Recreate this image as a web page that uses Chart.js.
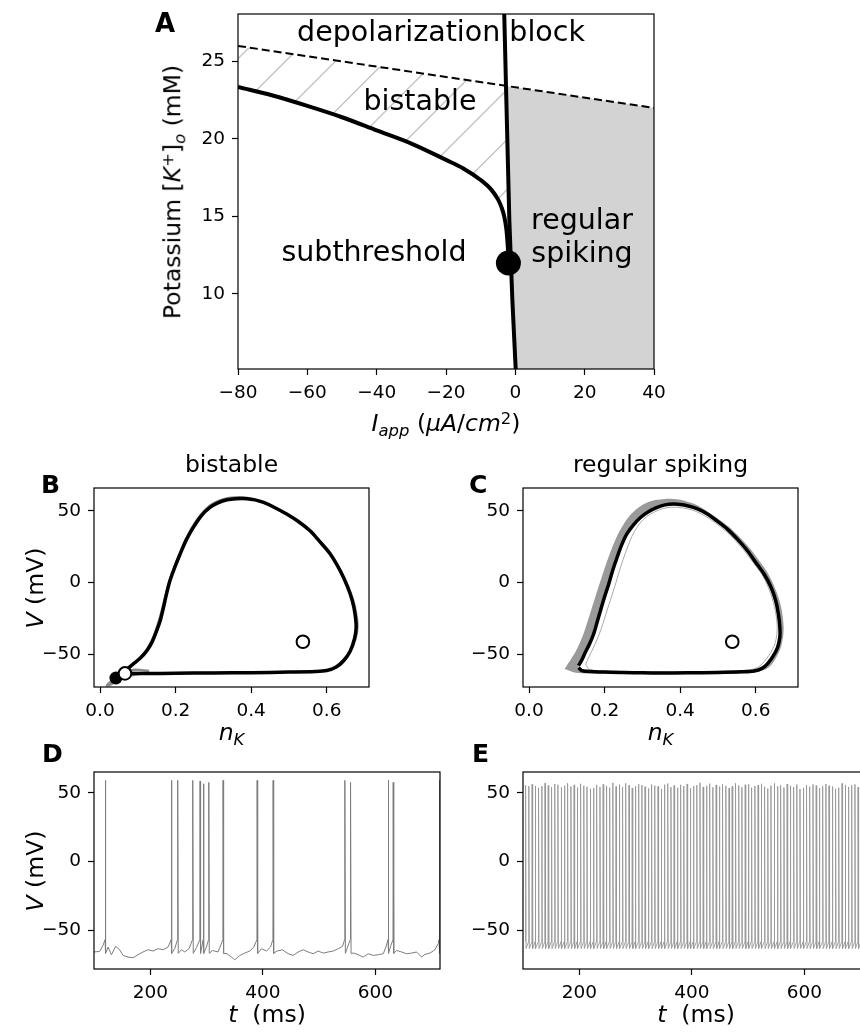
<!DOCTYPE html>
<html>
<head>
<meta charset="utf-8">
<title>Potassium bifurcation figure</title>
<script src="https://cdn.jsdelivr.net/npm/chart.js@4.4.0/dist/chart.umd.min.js"></script>
<style>
  html, body { margin: 0; padding: 0; background: #fff; }
  body { position: relative; width: 860px; height: 1035px; overflow: hidden; font-family: "DejaVu Sans", sans-serif; color: #000; }
  canvas { position: absolute; }
  .lbl { position: absolute; white-space: nowrap; line-height: 1; }
  .it { font-style: italic; }
  .sub { font-size: 70%; position: relative; top: 0.28em; line-height: 0; }
  .sup { font-size: 70%; position: relative; top: -0.45em; line-height: 0; }
</style>
</head>
<body>
<canvas id="chartA"></canvas>
<canvas id="chartB"></canvas>
<canvas id="chartC"></canvas>
<canvas id="chartD"></canvas>
<canvas id="chartE"></canvas>
<script>
// ---- panel A: (I_app, [K+]o) diagram ----
const iappTicks = [-80, -60, -40, -20, 0, 20, 40];
const koTicks = [10, 15, 20, 25];
const iappRange = [-80, 40];
const koRange = [5.16, 28.06];

const snIapp = [-80, -70, -60, -50, -40, -30, -20, -15, -10, -7, -5, -4, -3.2, -2.6, -2.25, -2.07, -2.0];
const snKo = [23.35, 22.8, 22.13, 21.4, 20.55, 19.7, 18.65, 18.1, 17.35, 16.75, 16.1, 15.6, 15.0, 14.2, 13.3, 12.6, 12.0];
const hopfIapp = [-3.3, -2.68, -1.73, -0.86, 0.25];
const hopfKo = [29.0, 23.29, 14.77, 9.61, 4.5];
const dashIapp = [-80, 40];
const dashKo = [26, 22];
const bifIapp = [-2.0];
const bifKo = [12.0];

// ---- panels B, C: phase plane ----
const nkTicks = [0, 0.2, 0.4, 0.6];
const vTicks = [-50, 0, 50];
const nkRange = [-0.016, 0.712];
const vPhaseRange = [-73.0, 65.9];

const bLoopNk = [0.042, 0.055, 0.066, 0.09, 0.12, 0.2, 0.3, 0.4, 0.5, 0.57, 0.6, 0.625, 0.645, 0.662, 0.674, 0.678, 0.675, 0.668, 0.655, 0.636, 0.609, 0.58, 0.556, 0.525, 0.494, 0.462, 0.433, 0.41, 0.389, 0.36, 0.336, 0.312, 0.291, 0.268, 0.247, 0.228, 0.212, 0.197, 0.185, 0.176, 0.168, 0.16, 0.15, 0.138, 0.124, 0.106, 0.088, 0.075, 0.068, 0.066];
const bLoopV = [-66.7, -64.6, -63.5, -63.6, -63.6, -63.4, -63.2, -63.0, -62.6, -62.2, -61.5, -59.0, -54.5, -48.0, -39.0, -31.0, -22.0, -13.0, -3.0, 8.0, 20.0, 29.0, 36.0, 42.5, 47.7, 52.3, 55.8, 57.6, 58.4, 58.4, 57.7, 55.5, 52.3, 46.5, 38.4, 29.5, 19.8, 10.0, 1.2, -8.0, -17.4, -26.0, -33.7, -41.5, -47.6, -53.0, -56.9, -59.8, -61.8, -63.5];
const bGrayNk = [0.07, 0.12, 0.2, 0.3, 0.4, 0.5, 0.58, 0.615, 0.64, 0.66, 0.676, 0.682, 0.678, 0.67, 0.656, 0.636, 0.607, 0.577, 0.55, 0.518, 0.487, 0.455, 0.427, 0.402, 0.38, 0.355, 0.33, 0.305, 0.285, 0.262, 0.242, 0.224, 0.208, 0.194, 0.182, 0.173, 0.164, 0.155, 0.145, 0.132, 0.118, 0.1, 0.082, 0.07];
const bGrayV = [-63.0, -63.3, -63.2, -63.0, -62.8, -62.5, -62.0, -60.5, -57.0, -50.0, -40.0, -31.0, -21.0, -12.0, -2.0, 9.0, 21.0, 30.0, 37.0, 43.5, 48.5, 53.0, 56.5, 58.5, 59.5, 59.5, 58.5, 56.0, 52.5, 46.0, 38.0, 28.5, 18.5, 9.0, 0.0, -9.0, -18.5, -27.0, -35.0, -43.0, -49.0, -54.5, -58.5, -63.0];
const bTailNk = [0.13, 0.09, 0.06, 0.04, 0.025, 0.018, 0.03, 0.05, 0.08, 0.12];
const bTailV = [-61.8, -61.0, -63.5, -67.0, -70.0, -72.0, -71.0, -68.0, -65.0, -63.2];
const bStableNk = [0.042], bStableV = [-66.7];
const bSaddleNk = [0.066], bSaddleV = [-63.5];
const bFocusNk = [0.537], bFocusV = [-41.4];

const cLoopNk = [0.131, 0.14, 0.153, 0.2, 0.25, 0.3, 0.348, 0.42, 0.5, 0.56, 0.596, 0.618, 0.631, 0.646, 0.658, 0.664, 0.664, 0.66, 0.653, 0.64, 0.622, 0.6, 0.578, 0.552, 0.525, 0.498, 0.472, 0.446, 0.419, 0.4, 0.383, 0.36, 0.339, 0.316, 0.295, 0.276, 0.259, 0.245, 0.233, 0.221, 0.211, 0.2, 0.189, 0.18, 0.171, 0.16, 0.149, 0.14, 0.131];
const cLoopV = [-59.5, -61.5, -62.0, -62.6, -62.9, -63.1, -63.2, -63.1, -62.8, -62.4, -61.8, -59.8, -56.9, -51.5, -45.3, -38.0, -31.4, -22.0, -12.8, -3.0, 5.9, 14.0, 22.1, 30.0, 37.2, 42.8, 47.7, 51.3, 53.5, 54.4, 54.7, 54.1, 52.3, 49.3, 45.3, 40.0, 33.8, 26.0, 17.4, 8.0, -1.1, -10.0, -19.7, -28.0, -36.0, -43.0, -48.8, -54.0, -58.1];
// outer edge of the grey bundle of noisy trajectories
const cEdgeNk = [0.094, 0.12, 0.16, 0.3, 0.45, 0.56, 0.6, 0.625, 0.64, 0.655, 0.667, 0.673, 0.674, 0.67, 0.662, 0.648, 0.63, 0.607, 0.584, 0.556, 0.528, 0.5, 0.472, 0.444, 0.417, 0.395, 0.375, 0.36, 0.335, 0.31, 0.288, 0.268, 0.25, 0.234, 0.221, 0.209, 0.197, 0.186, 0.175, 0.164, 0.154, 0.144, 0.133, 0.122, 0.11, 0.1, 0.094];
const cEdgeV = [-60.5, -62.8, -63.6, -63.9, -63.9, -63.5, -62.6, -60.8, -58.0, -52.0, -45.0, -37.0, -31.0, -21.0, -12.0, -2.0, 7.5, 16.0, 24.0, 32.0, 39.0, 44.5, 49.5, 54.0, 56.5, 57.8, 58.4, 58.3, 57.5, 55.5, 52.0, 47.0, 40.5, 33.0, 25.0, 16.5, 7.5, -1.5, -10.5, -19.7, -28.0, -36.0, -43.0, -49.0, -54.0, -58.0, -60.5];
const cInnerNk = [0.15, 0.16, 0.2, 0.35, 0.5, 0.585, 0.61, 0.635, 0.652, 0.657, 0.652, 0.64, 0.62, 0.596, 0.573, 0.547, 0.52, 0.494, 0.468, 0.443, 0.418, 0.39, 0.365, 0.343, 0.322, 0.303, 0.286, 0.272, 0.26, 0.249, 0.238, 0.228, 0.217, 0.206, 0.196, 0.186, 0.175, 0.164, 0.155, 0.15];
const cInnerV = [-57.0, -60.8, -61.8, -62.4, -62.1, -61.0, -58.5, -51.0, -42.0, -31.0, -20.0, -8.0, 4.0, 13.0, 21.0, 29.0, 36.0, 41.5, 46.0, 49.5, 51.5, 52.5, 52.2, 50.5, 47.8, 44.0, 38.5, 32.0, 24.0, 16.0, 7.0, -2.0, -11.0, -20.0, -28.5, -36.0, -43.0, -49.0, -54.0, -57.0];
const cFocusNk = [0.538], cFocusV = [-41.4];

// ---- panels D, E: voltage traces ----
const tTicks = [200, 400, 600];
const tRange = [100, 714.6];
const vTraceRange = [-78.4, 65.1];

const dBaseT = [100, 110, 116, 125, 131, 138.5, 145.6, 151.6, 160.4, 169.3, 178.2, 187.1, 196, 204.9, 213.8, 222.7, 231.6, 243.4, 255.3, 261.2, 268.9, 281.9, 299.7, 310.4, 320.4, 336.4, 344.1, 350.1, 359, 367.9, 376.7, 383.9, 397.5, 406.4, 413.5, 425.3, 434.8, 444.9, 453.8, 462.7, 471.6, 480.4, 489.3, 498.2, 507.1, 516, 524.9, 533.8, 541.5, 550.4, 561.6, 569.3, 578.2, 587.1, 596, 604.9, 613.8, 618.5, 627.4, 637.5, 646.4, 655.3, 664.1, 673, 681.9, 687.9, 696.7, 705.6, 711.6];
const dBaseV = [-66.0, -65.6, -61.2, -62.4, -68.0, -61.9, -64.4, -68.5, -69.7, -70.2, -68.0, -66.0, -64.4, -65.3, -63.6, -64.4, -62.4, -63.6, -64.4, -66.0, -63.6, -62.9, -62.4, -64.9, -66.0, -67.3, -69.7, -71.7, -68.5, -66.8, -65.3, -62.4, -63.6, -65.3, -62.4, -65.3, -64.4, -67.3, -68.5, -66.0, -64.4, -66.0, -67.3, -65.3, -66.8, -66.0, -65.3, -63.6, -61.9, -62.4, -66.8, -68.0, -69.7, -67.3, -68.5, -68.0, -67.3, -62.4, -61.2, -64.9, -66.0, -67.3, -66.8, -66.0, -69.7, -67.8, -66.8, -64.4, -59.8];
const dSpikeT = [120.1, 237.5, 248.7, 275.4, 288.4, 294.4, 303.9, 329.3, 389.8, 418.2, 545.6, 555.7, 622.7, 631.5, 713.3];
const dSpikePeak = [59, 59, 59, 59, 58.5, 56.5, 57.5, 59, 59, 59, 59, 57.5, 59, 57.5, 59];
const dPre = -57, dPost = -67;

const eSpikeT = [104.6, 110.3, 116.2, 121.8, 127.6, 133.5, 139.1, 144.8, 150.7, 156.4,
  162.0, 167.9, 173.6, 179.2, 185.1, 190.8, 196.4, 202.3, 208.0, 213.6,
  219.5, 225.2, 230.8, 236.7, 242.4, 248.0, 253.9, 259.6, 265.2, 271.1,
  276.8, 282.4, 288.3, 294.0, 299.6, 305.5, 311.2, 316.8, 322.7, 328.4,
  334.0, 339.9, 345.6, 351.2, 357.1, 362.8, 368.4, 374.3, 380.0, 385.6,
  391.5, 397.2, 402.8, 408.7, 414.4, 420.0, 425.9, 431.6, 437.2, 443.1,
  448.8, 454.4, 460.3, 466.0, 471.6, 477.5, 483.2, 488.8, 494.7, 500.4,
  506.0, 511.9, 517.6, 523.2, 529.1, 534.8, 540.4, 546.3, 552.0, 557.6,
  563.5, 569.2, 574.8, 580.7, 586.4, 592.0, 597.9, 603.6, 609.2, 615.1,
  620.8, 626.4, 632.3, 638.0, 643.6, 649.5, 655.2, 660.8, 666.7, 672.4,
  678.0, 683.9, 689.6, 695.2, 701.1, 706.8, 712.4];
const eSpikePeak = [55.5, 54.8, 56.2, 55.0, 53.6, 54.9, 57.0, 55.3, 54.1, 56.4,
  55.8, 53.9, 55.2, 56.9, 54.6, 55.7, 53.8, 56.5, 55.1, 54.3,
  52.9, 53.4, 55.8, 54.2, 56.1, 55.0, 53.7, 57.2, 54.5, 55.9,
  54.0, 56.8, 55.4, 53.5, 54.7, 56.3, 55.6, 54.4, 53.1, 56.0,
  55.2, 54.6, 52.8, 55.9, 56.7, 54.1, 55.3, 53.6, 55.8, 54.9,
  56.4, 53.2, 54.8, 55.5, 57.3, 54.2, 55.1, 56.6, 53.9, 55.7,
  54.5, 56.2, 55.0, 53.4, 54.6, 56.9, 55.3, 54.0, 55.8, 56.1,
  53.7, 54.9, 55.6, 56.5, 54.3, 53.0, 55.2, 56.8, 54.7, 55.4,
  53.8, 56.3, 55.0, 54.1, 55.9, 52.7, 53.5, 55.6, 54.4, 56.0,
  55.2, 53.3, 54.8, 56.4, 55.1, 54.5, 52.9, 53.6, 56.7, 55.7,
  54.2, 55.4, 56.1, 54.0, 55.3, 53.9, 56.5];
const ePre = -58.5, eTrough = -63.5;

// ---- layout ----
const YW = 70, XH = 46, PT = 30, PR = 30;
const FONT = "DejaVu Sans";

function pts(xs, ys) {
  return xs.map((x, i) => ({ x: x, y: ys[i] }));
}

function spikeTrace(baseT, baseV, spikeT, peaks, pre, post) {
  const out = pts(baseT, baseV);
  spikeT.forEach((t, i) => {
    out.push({ x: t - 0.4, y: pre }, { x: t, y: peaks[i] }, { x: t + 0.9, y: post });
  });
  return out.sort((a, b) => a.x - b.x);
}

const minus = v => String(v).replace("-", "\u2212");
const oneDec = v => v.toFixed(1);

function place(id, box) {
  const cv = document.getElementById(id);
  cv.width = YW + box.w + PR;
  cv.height = PT + box.h + XH;
  cv.style.left = (box.x - YW) + "px";
  cv.style.top = (box.y - PT) + "px";
  cv.style.width = cv.width + "px";
  cv.style.height = cv.height + "px";
  return cv;
}

function axis(range, ticks, fmt, fit) {
  return {
    type: "linear",
    min: range[0],
    max: range[1],
    afterBuildTicks: s => { s.ticks = ticks.map(v => ({ value: v })); },
    afterFit: fit,
    ticks: { color: "#000", font: { family: FONT, size: 18.5 }, padding: 7, maxRotation: 0, autoSkip: false, callback: v => fmt(v) },
    grid: { drawOnChartArea: false, drawTicks: true, tickLength: 6, tickWidth: 1.2, tickColor: "#000" },
    border: { display: false }
  };
}

function options(xr, xt, xf, yr, yt, yf) {
  return {
    responsive: false,
    animation: false,
    events: [],
    layout: { padding: { top: PT, right: PR, bottom: 0, left: 0 } },
    plugins: { legend: { display: false }, tooltip: { enabled: false } },
    scales: {
      x: axis(xr, xt, xf, s => { s.height = XH; }),
      y: axis(yr, yt, yf, s => { s.width = YW; })
    }
  };
}

// box round each plot, like the matplotlib spines
const frame = {
  id: "frame",
  afterDraw(chart) {
    const a = chart.chartArea, c = chart.ctx;
    c.save();
    c.strokeStyle = "#000";
    c.lineWidth = 1.2;
    c.strokeRect(a.left, a.top, a.right - a.left, a.bottom - a.top);
    c.restore();
  }
};

function line(data, color, width, extra) {
  return Object.assign({ data: data, showLine: true, borderColor: color, borderWidth: width, pointRadius: 0, fill: false }, extra || {});
}

function area(data, color, order, extra) {
  return line(data, color, 0, Object.assign({ fill: "shape", backgroundColor: color, order: order }, extra || {}));
}

function dots(data, radius, fillColor, edgeWidth, order) {
  return { data: data, pointRadius: radius, pointBackgroundColor: fillColor, pointBorderColor: "#000", pointBorderWidth: edgeWidth, order: order };
}

// ---- A ----
const cvA = place("chartA", { x: 238, y: 14, w: 416, h: 355 });

function makeHatch(ctx) {
  // canvas A starts at page (168, -16): hatch lines on x + y = 44.7 (mod 50) of the canvas
  const tile = document.createElement("canvas");
  tile.width = 50; tile.height = 50;
  const g = tile.getContext("2d");
  g.strokeStyle = "#c4c4c4";
  g.lineWidth = 1.4;
  g.beginPath();
  g.moveTo(-2, 46.7); g.lineTo(46.7, -2);
  g.moveTo(42.7, 52); g.lineTo(52, 42.7);
  g.stroke();
  return ctx.createPattern(tile, "repeat");
}
const hatch = makeHatch(cvA.getContext("2d"));

const dashAt = x => dashKo[0] + (dashKo[1] - dashKo[0]) * (x - dashIapp[0]) / (dashIapp[1] - dashIapp[0]);
const snPts = pts(snIapp, snKo);
const hopfPts = pts(hopfIapp, hopfKo);
const crossing = { x: hopfIapp[1], y: dashAt(hopfIapp[1]) };

const grayRegion = [crossing].concat(hopfPts.slice(2), [
  { x: dashIapp[1], y: hopfKo[hopfKo.length - 1] },
  { x: dashIapp[1], y: dashKo[1] }
]);
const bistableRegion = snPts.concat([
  { x: hopfIapp[2], y: hopfKo[2] },
  crossing,
  { x: dashIapp[0], y: dashKo[0] }
]);

new Chart(cvA, {
  type: "scatter",
  data: {
    datasets: [
      area(grayRegion, "#d3d3d3", 6, { clip: 0 }),
      area(bistableRegion, hatch, 5, { clip: 0 }),
      line(pts(dashIapp, dashKo), "#000", 2, { borderDash: [8, 4], order: 4, clip: 0 }),
      line(snPts, "#000", 4, { cubicInterpolationMode: "monotone", order: 3, clip: 0 }),
      line(hopfPts, "#000", 4, { order: 2, clip: 0 }),
      dots(pts(bifIapp, bifKo), 12.5, "#000", 0, 1)
    ]
  },
  options: options(iappRange, iappTicks, minus, koRange, koTicks, minus),
  plugins: [frame]
});

// ---- B ----
new Chart(place("chartB", { x: 94, y: 488, w: 275, h: 199 }), {
  type: "scatter",
  data: {
    datasets: [
      line(pts(bTailNk, bTailV), "#8c8c8c", 2.5, { tension: 0.3, order: 6 }),
      line(pts(bGrayNk, bGrayV), "#8c8c8c", 2, { tension: 0.3, order: 5 }),
      line(pts(bLoopNk, bLoopV), "#000", 3.5, { tension: 0.3, order: 4 }),
      dots(pts(bStableNk, bStableV), 6.5, "#000", 0, 3),
      dots(pts(bSaddleNk, bSaddleV), 6.3, "#fff", 2, 2),
      dots(pts(bFocusNk, bFocusV), 6.3, "#fff", 2, 1)
    ]
  },
  options: options(nkRange, nkTicks, oneDec, vPhaseRange, vTicks, minus),
  plugins: [frame]
});

// ---- C ----
new Chart(place("chartC", { x: 523, y: 488, w: 275, h: 199 }), {
  type: "scatter",
  data: {
    datasets: [
      area(pts(cEdgeNk, cEdgeV), "#9a9a9a", 7, { tension: 0.3 }),
      area(pts(cLoopNk, cLoopV), "#ffffff", 6, { tension: 0.3 }),
      line(pts(cInnerNk, cInnerV), "#aaaaaa", 1, { tension: 0.3, order: 5 }),
      line(pts(cLoopNk, cLoopV), "#000", 3.5, { tension: 0.3, order: 4 }),
      dots(pts(cFocusNk, cFocusV), 6.3, "#fff", 2, 1)
    ]
  },
  options: options(nkRange, nkTicks, oneDec, vPhaseRange, vTicks, minus),
  plugins: [frame]
});

// ---- D ----
new Chart(place("chartD", { x: 94, y: 772, w: 346, h: 197 }), {
  type: "scatter",
  data: { datasets: [line(spikeTrace(dBaseT, dBaseV, dSpikeT, dSpikePeak, dPre, dPost), "#7d7d7d", 1, { clip: 0 })] },
  options: options(tRange, tTicks, minus, vTraceRange, vTicks, minus),
  plugins: [frame]
});

// ---- E ----
new Chart(place("chartE", { x: 523, y: 772, w: 346, h: 197 }), {
  type: "scatter",
  data: { datasets: [line(spikeTrace([], [], eSpikeT, eSpikePeak, ePre, eTrough), "#999999", 0.9, { clip: 0 })] },
  options: options(tRange, tTicks, minus, vTraceRange, vTicks, minus),
  plugins: [frame]
});

// ---- text ----
function label(html, x, y, size, opt) {
  opt = opt || {};
  const d = document.createElement("div");
  d.className = "lbl";
  d.innerHTML = html;
  d.style.fontSize = size + "px";
  if (opt.bold) d.style.fontWeight = "bold";
  d.style.left = x + "px";
  if (opt.rotate) {
    d.style.top = y + "px";
    d.style.transform = "translate(-50%, -50%) rotate(-90deg)";
  } else {
    d.style.top = (y - 0.846 * size) + "px";
    if (!opt.left) d.style.transform = "translateX(-50%)";
  }
  document.body.appendChild(d);
}

label("A", 155, 32, 26, { bold: true, left: true });
label("B", 41, 493, 25, { bold: true, left: true });
label("C", 469, 493, 25, { bold: true, left: true });
label("D", 42, 762, 25, { bold: true, left: true });
label("E", 472, 762, 25, { bold: true, left: true });

label("depolarization block", 441, 42, 28.5);
label("bistable", 420, 111, 28.5);
label("subthreshold", 374, 262, 28.5);
label("regular", 582, 230, 28.5);
label("spiking", 582, 263, 28.5);

label('Potassium [<span class="it">K</span><span class="sup">+</span>]<span class="sub it">o</span> (mM)', 173, 192, 23.5, { rotate: true });
label('<span class="it">I</span><span class="sub it">app</span> (<span class="it">\u03bcA</span>/<span class="it">cm</span><span class="sup">2</span>)', 446, 432, 23.5);

label("bistable", 231.5, 473, 23.5);
label("regular spiking", 660.5, 473, 23.5);
label('<span class="it">V</span> (mV)', 36, 587.5, 23.5, { rotate: true });
label('<span class="it">V</span> (mV)', 36, 870.5, 23.5, { rotate: true });
label('<span class="it">n</span><span class="sub it">K</span>', 231.5, 741, 23.5);
label('<span class="it">n</span><span class="sub it">K</span>', 660.5, 741, 23.5);
label('<span class="it">t</span>&nbsp; (ms)', 267, 1023, 23.5);
label('<span class="it">t</span>&nbsp; (ms)', 696, 1023, 23.5);
</script>
</body>
</html>
